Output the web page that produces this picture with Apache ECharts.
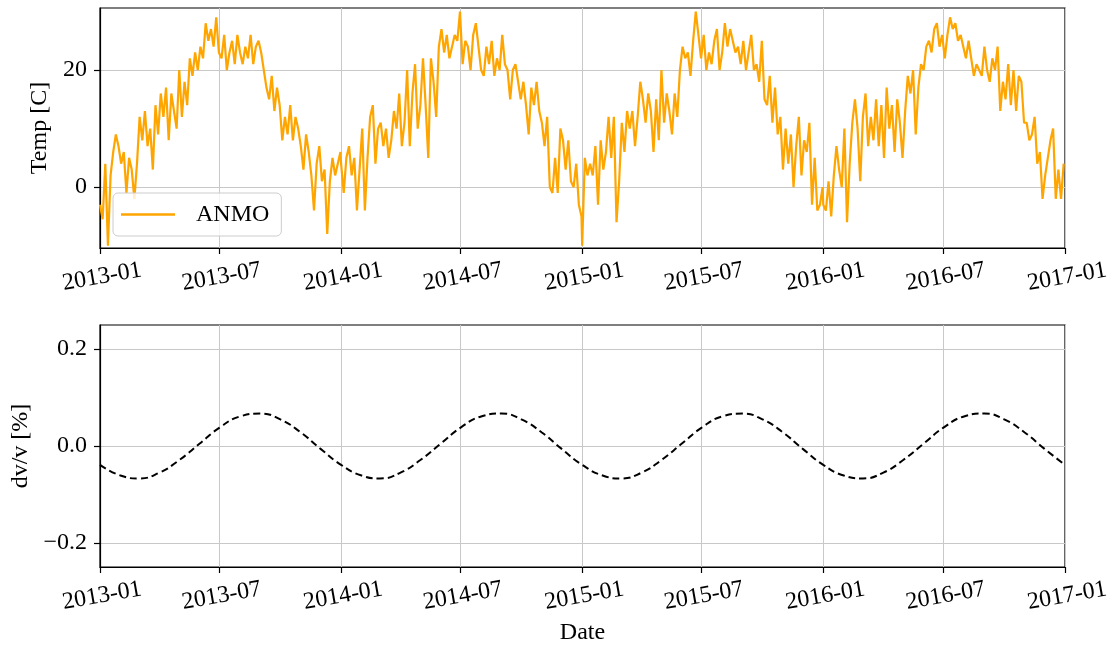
<!DOCTYPE html>
<html>
<head>
<meta charset="utf-8">
<script src="https://cdn.jsdelivr.net/npm/echarts@6/dist/echarts.min.js"></script>
<style>
html,body{margin:0;padding:0;background:#fff;}
#chart{width:1113px;height:646px;}
</style>
</head>
<body>
<div id="chart"></div>
<script>
// ---- data ----
const STEP_DAYS = 4; // temperature samples every 4 days from Jan 1 of each year
const temp2013 = [-3,-5.5,4,-10,2,6,9,7,4,6,-1,5,3,-2,4,12,8,13,7,10,3,14,9,16,12,17,8,16,13,10,20,12,18,14,22,19,23,20,24,22,28,25,27,24,29,23,22,26,20,23,25,21,26,23,21,24,22,26,21,24,25,23,20,17,15,19,13,17,14,8,12,9,14,8,12,10,7,3,9,6,2,-4,4,7,1,3,-8,1,5,2,4,6];
const temp2014 = [4,-1,5,7,2,5,-4,3,10,-4,5,12,14,4,10,11,7,10,5,8,13,10,16,7,11,20,7,16,21,10,14,22,14,5,22,18,12,24,27,23,26,22,24,26,25,30,21,25,24,20,26,28,24,20,19,24,21,25,19,22,20,26,21,20,15,20,21,18,15,18,14,9,17,14,18,13,11,7,12,0,-1,5,-1,10,8,3,8,1,0,4,-3,-5];
const temp2015 = [-10,5,2,4,2,7,-3,8,3,6,12,5,12,-6,1,11,6,13,10,13,7,12,18,15,11,16,13,6,15,8,20,11,16,13,9,16,12,20,24,22,23,19,25,30,26,22,26,20,23,21,25,27,20,23,28,24,27,25,23,24,21,25,20,23,26,20,21,18,25,15,14,19,11,17,9,12,3,10,4,9,0,7,12,2,8,6,11,-3,5,-4,-3,0];
const temp2016 = [-3,-4,1,-5,2,7,3,0,10,-6,4,11,15,10,1,12,16,7,12,8,15,7,14,5,17,10,14,6,15,11,5,13,19,16,20,9,17,21,20,24,25,23,27,28,24,26,22,26,29,27,28,25,26,24,22,25,22,19,21,20,19,24,20,18,22,20,24,13,18,15,21,14,20,13,19,18,11,11,8,9,12,4,6,-2,2,5,8,10,-2,3,-2,4];
// dv/v read at the first day of each month, 2013-01 .. 2017-01
const dvv = [
 -0.039,-0.061,-0.067,-0.055,-0.029,0.005,0.038,0.061,0.067,0.055,0.028,-0.006,
 -0.039,-0.061,-0.067,-0.055,-0.029,0.005,0.038,0.061,0.067,0.055,0.028,-0.006,
 -0.039,-0.061,-0.067,-0.055,-0.029,0.005,0.038,0.061,0.067,0.055,0.028,-0.006,
 -0.039,-0.061,-0.067,-0.055,-0.029,0.005,0.038,0.061,0.067,0.055,0.028,-0.006,
 -0.039];
const tempYears = [[2013,temp2013],[2014,temp2014],[2015,temp2015],[2016,temp2016]];
const xTickMonths = ['2013-01','2013-07','2014-01','2014-07','2015-01','2015-07','2016-01','2016-07','2017-01'];
const tempTicks = [0, 20];
const dvvTicks = [-0.2, 0.0, 0.2];
const seriesName = 'ANMO';

// ---- build ----
function monthToTime(s){ const [y,m]=s.split('-').map(Number); return new Date(y,m-1,1).getTime(); }
const xTicks = xTickMonths.map(monthToTime);
const xMin = xTicks[0], xMax = xTicks[xTicks.length-1];
const tempData = [];
tempYears.forEach(([yr, vals]) => vals.forEach((v,i) => tempData.push([new Date(yr,0,1+STEP_DAYS*i).getTime(), v])));
const dvvData = dvv.map((v,i) => [new Date(2013, i, 1).getTime(), v]);

const FONT = '"Liberation Serif","Times New Roman",serif';
function pad(n){return n<10?'0'+n:''+n;}
function fmtDate(v){ const d=new Date(v); return d.getFullYear()+'-'+pad(d.getMonth()+1); }

function xAxisCfg(gi, withName){
  return {
    type:'value', gridIndex:gi, min:xMin, max:xMax,
    name: withName ? 'Date' : '', nameLocation:'middle', nameGap:54,
    nameTextStyle:{fontFamily:FONT,fontSize:24,color:'#000'},
    axisLine:{show:true,onZero:false,lineStyle:{color:'#000',width:1.2}},
    axisTick:{show:true,length:6,customValues:xTicks,lineStyle:{color:'#000',width:1.2}},
    axisLabel:{customValues:xTicks,formatter:fmtDate,rotate:10,align:'center',verticalAlign:'top',margin:17,
      fontFamily:FONT,fontSize:24,color:'#000',hideOverlap:false,showMinLabel:true,showMaxLabel:true},
    splitLine:{show:true,lineStyle:{color:'#c8c8c8',width:1}}
  };
}
function yAxisCfg(gi, name, min, max, ticks, fmt, gap){
  return {
    type:'value', gridIndex:gi, min:min, max:max, name:name, nameLocation:'middle', nameGap:gap,
    nameTextStyle:{fontFamily:FONT,fontSize:24,color:'#000'},
    axisLine:{show:true,onZero:false,lineStyle:{color:'#000',width:1.2}},
    axisTick:{show:true,length:6,customValues:ticks,lineStyle:{color:'#000',width:1.2}},
    axisLabel:{customValues:ticks,formatter:fmt,margin:13,fontFamily:FONT,fontSize:24,color:'#000'},
    splitLine:{show:true,lineStyle:{color:'#c8c8c8',width:1}}
  };
}

const chart = echarts.init(document.getElementById('chart'), null, {renderer:'canvas'});
chart.setOption({
  animation:false,
  backgroundColor:'#fff',
  grid:[
    {left:100,right:48,top:8,height:240,show:true,borderColor:'#000',borderWidth:1.2,backgroundColor:'transparent'},
    {left:100,right:48,top:325,height:242,show:true,borderColor:'#000',borderWidth:1.2,backgroundColor:'transparent'}
  ],
  xAxis:[xAxisCfg(0,false), xAxisCfg(1,true)],
  yAxis:[
    yAxisCfg(0,'Temp [C]',-10.4,30.6,tempTicks,v=>String(v),45),
    yAxisCfg(1,'dv/v [%]',-0.25,0.25,dvvTicks,v=>(v<0?'\u2212':'')+Math.abs(v).toFixed(1),66)
  ],
  legend:{
    data:[{name:seriesName,icon:'rect'}],
    left:113, top:193, orient:'vertical',
    itemWidth:54, itemHeight:2.5,
    padding:[8,12,8,8],
    backgroundColor:'rgba(255,255,255,0.8)', borderColor:'#cccccc', borderWidth:1, borderRadius:5,
    textStyle:{fontFamily:FONT,fontSize:24,color:'#000',padding:[0,0,0,16],lineHeight:27}
  },
  series:[
    {name:seriesName,type:'line',xAxisIndex:0,yAxisIndex:0,data:tempData,showSymbol:false,symbol:'none',
     lineStyle:{color:'#FFA500',width:2.2},itemStyle:{color:'#FFA500'},clip:true,z:2},
    {name:'dvv',type:'line',xAxisIndex:1,yAxisIndex:1,data:dvvData,showSymbol:false,symbol:'none',smooth:true,
     lineStyle:{color:'#000',width:2,type:[7,4]},itemStyle:{color:'#000'},clip:true}
  ]
});
</script>
</body>
</html>
